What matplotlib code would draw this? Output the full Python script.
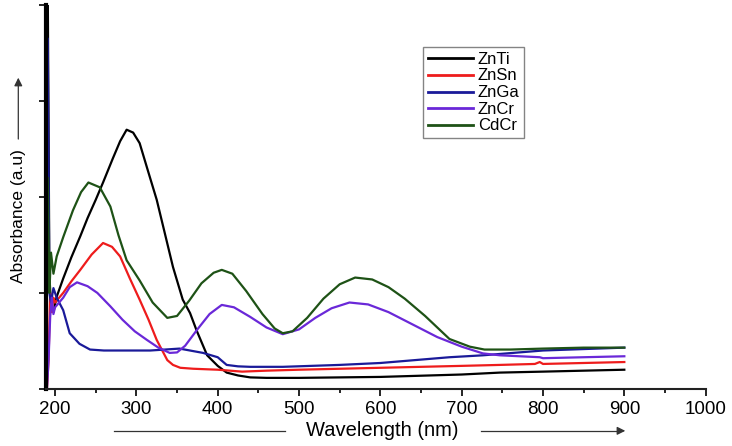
import matplotlib.pyplot as plt
from matplotlib.ticker import MultipleLocator

plt.rcParams['font.family'] = ['Liberation Sans', 'DejaVu Sans']

# wavelength (nm) / absorbance (a.u.)
znti_x = [190, 191, 193, 195, 198, 202, 210, 220, 231, 240, 250, 259, 271, 280, 288, 296, 304, 315, 325, 335, 345, 357, 366, 374, 387, 400, 411, 425, 440, 460, 500, 600, 700, 747, 800, 850, 900]
znti_y = [4.2, 4.2, 1.2, 0.85, 0.8, 0.96, 1.15, 1.37, 1.59, 1.78, 1.97, 2.15, 2.4, 2.58, 2.70, 2.67, 2.56, 2.25, 1.97, 1.62, 1.27, 0.93, 0.79, 0.61, 0.35, 0.24, 0.17, 0.14, 0.12, 0.115, 0.115, 0.125, 0.15, 0.17, 0.18, 0.19, 0.2]

znsn_x = [190, 192, 194, 196, 198, 200, 205, 210, 220, 231, 245, 259, 270, 280, 292, 304, 315, 325, 338, 345, 354, 370, 400, 430, 460, 500, 600, 700, 747, 790, 796, 800, 850, 900]
znsn_y = [0.0, 0.3, 1.0, 0.8, 0.95, 0.9, 0.95, 1.0, 1.12, 1.24, 1.4, 1.52, 1.48, 1.38, 1.15, 0.93, 0.72, 0.51, 0.30, 0.25, 0.22, 0.21, 0.2, 0.18, 0.19, 0.2, 0.22, 0.24, 0.25, 0.26, 0.28, 0.26, 0.27, 0.28]

znga_x = [190, 191, 193, 195, 198, 202, 210, 218, 230, 243, 260, 292, 317, 353, 382, 400, 411, 425, 440, 480, 550, 600, 685, 726, 800, 900]
znga_y = [3.65, 3.65, 1.0, 0.9, 1.05, 0.95, 0.82, 0.58, 0.47, 0.41, 0.40, 0.40, 0.40, 0.42, 0.375, 0.33, 0.25, 0.235, 0.23, 0.23, 0.25, 0.27, 0.33, 0.35, 0.40, 0.43]

zncr_x = [190, 192, 194, 196, 198, 200, 205, 210, 218, 227, 240, 252, 268, 283, 298, 313, 327, 341, 350, 360, 375, 390, 405, 420, 440, 460, 480, 500, 520, 540, 562, 585, 610, 640, 670, 700, 726, 747, 796, 800, 850, 900]
zncr_y = [0.0, 0.3, 0.75, 0.95, 0.78, 0.85, 0.9, 0.95, 1.06, 1.11, 1.07, 1.0, 0.86, 0.72, 0.6, 0.51, 0.43, 0.375, 0.38, 0.45, 0.62, 0.78, 0.875, 0.85, 0.75, 0.64, 0.57, 0.62, 0.74, 0.84, 0.9, 0.88, 0.80, 0.67, 0.54, 0.44, 0.37, 0.35, 0.33, 0.32, 0.33, 0.34]

cdcr_x = [190, 191, 193, 195, 198, 202, 210, 222, 232, 241, 255, 268, 278, 288, 304, 320, 338, 350, 365, 380, 395, 405, 418, 435, 455, 470, 480, 492, 510, 530, 550, 569, 590, 610, 630, 655, 685, 710, 728, 760, 800, 850, 900]
cdcr_y = [2.2, 2.2, 1.0, 1.42, 1.2, 1.38, 1.58, 1.86, 2.05, 2.15, 2.1, 1.9, 1.6, 1.34, 1.13, 0.9, 0.74, 0.76, 0.92, 1.1, 1.21, 1.24, 1.2, 1.02, 0.78, 0.63, 0.58, 0.6, 0.74, 0.94, 1.09, 1.16, 1.14, 1.06, 0.94, 0.76, 0.52, 0.44, 0.41, 0.41, 0.42, 0.43, 0.43]

series = [
    ("ZnTi", znti_x, znti_y, "#000000"),
    ("ZnSn", znsn_x, znsn_y, "#ee1c1c"),
    ("ZnGa", znga_x, znga_y, "#1a1a99"),
    ("ZnCr", zncr_x, zncr_y, "#6a28d8"),
    ("CdCr", cdcr_x, cdcr_y, "#1e5216"),
]

fig = plt.figure(figsize=(7.32, 4.46), dpi=100)
ax = fig.add_axes([0.063, 0.128, 0.901, 0.861])

for name, x, y, c in series:
    ax.plot(x, y, color=c, lw=1.6, label=name)

ax.set_xlim(189, 1000)
ax.set_ylim(0, 4)
ax.xaxis.set_major_locator(MultipleLocator(100))
ax.xaxis.set_minor_locator(MultipleLocator(50))
ax.set_xticks(range(200, 1001, 100))
ax.set_yticks([0, 1, 2, 3, 4])
ax.set_yticklabels([])
ax.tick_params(axis='x', which='major', length=5, width=1.2, labelsize=13.5, pad=4)
ax.tick_params(axis='x', which='minor', length=3, width=1.2)
ax.tick_params(axis='y', length=5, width=1.2)

ax.spines['top'].set_visible(False)
ax.spines['right'].set_visible(False)
ax.spines['left'].set_linewidth(3)
ax.spines['bottom'].set_linewidth(1.5)
ax.spines['bottom'].set_color('#222222')

leg = ax.legend(loc='upper left', bbox_to_anchor=(0.571, 0.891), borderaxespad=0,
                fontsize=12, handlelength=2.7, frameon=True, fancybox=False,
                borderpad=0.3, labelspacing=0.1, handletextpad=0.3, handleheight=0.6)
leg.get_frame().set_edgecolor('#666666')
leg.get_frame().set_linewidth(1.0)
for h in leg.get_lines():
    h.set_linewidth(2.0)

# axis titles with arrows, drawn in figure coordinates
fig.text(0.522, 0.034, "Wavelength (nm)", ha='center', va='center', fontsize=14.5)
fig.add_artist(plt.Line2D([0.156, 0.389], [0.034, 0.034], color='#333333', lw=0.9))
fig.add_artist(plt.Line2D([0.657, 0.845], [0.034, 0.034], color='#333333', lw=0.9))
ax.annotate('', xy=(0.858, 0.034), xytext=(0.84, 0.034), xycoords='figure fraction',
            arrowprops=dict(arrowstyle='-|>', color='#333333', lw=0.9, mutation_scale=12))

fig.text(0.025, 0.516, "Absorbance (a.u)", ha='center', va='center', rotation=90, fontsize=12.5)
ax.annotate('', xy=(0.025, 0.832), xytext=(0.025, 0.682), xycoords='figure fraction',
            arrowprops=dict(arrowstyle='-|>', color='#333333', lw=0.9, mutation_scale=12))

fig.savefig("out.png", dpi=100)
